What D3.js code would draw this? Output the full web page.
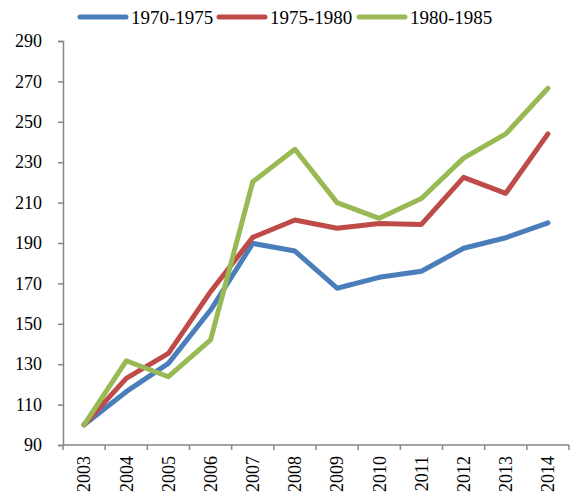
<!DOCTYPE html>
<html>
<head>
<meta charset="utf-8">
<script src="https://cdn.jsdelivr.net/npm/d3@7"></script>
<style>
  body { margin: 0; background: #fff; }
  text { font-family: "Liberation Serif", "Times New Roman", serif; fill: #000; }
</style>
</head>
<body>
<script>
var years = ["2003","2004","2005","2006","2007","2008","2009","2010","2011","2012","2013","2014"];
var seriesNames = ["1970-1975", "1975-1980", "1980-1985"];
var s1970 = [100, 116.4, 130.4, 156.8, 189.8, 186, 167.6, 173, 176, 187.4, 192.6, 200];
var s1975 = [100, 123, 135.4, 165.9, 192.8, 201.4, 197.3, 199.7, 199.2, 222.5, 214.6, 244];
var s1980 = [100, 131.7, 123.8, 142, 220.3, 236.4, 210, 202.2, 212, 232, 244, 266.6];
var yTicks = [90, 110, 130, 150, 170, 190, 210, 230, 250, 270, 290];

var colors = ["#4a7ebb", "#be4b48", "#98b954"];
var allSeries = [s1970, s1975, s1980];

var width = 581, height = 504;
var plotLeft = 63, plotRight = 569, plotTop = 41, plotBottom = 445;

var svg = d3.select("body").append("svg")
    .attr("width", width)
    .attr("height", height);

var x = d3.scaleBand().domain(years).range([plotLeft, plotRight]);
var y = d3.scaleLinear().domain([90, 290]).range([plotBottom, plotTop]);

// y axis
var yAxis = svg.append("g")
    .attr("transform", "translate(" + plotLeft + ",0)")
    .call(d3.axisLeft(y).tickValues(yTicks).tickSize(5));
yAxis.selectAll("text").style("font-size", "18px").attr("x", -21);
yAxis.select(".domain").attr("stroke", "#868686").attr("stroke-width", 1.5);
yAxis.selectAll(".tick line").attr("stroke", "#868686").attr("stroke-width", 1.5);

// x axis with ticks at band edges
var xAxis = svg.append("g")
    .attr("transform", "translate(0," + plotBottom + ")");
xAxis.append("line")
    .attr("x1", plotLeft).attr("x2", plotRight)
    .attr("stroke", "#868686").attr("stroke-width", 1.5);
var edges = years.map(function(d) { return x(d); }).concat([plotRight]);
xAxis.selectAll(".tk").data(edges).enter().append("line")
    .attr("x1", function(d) { return d; }).attr("x2", function(d) { return d; })
    .attr("y1", 0).attr("y2", 5)
    .attr("stroke", "#868686").attr("stroke-width", 1.5);
xAxis.selectAll(".lb").data(years).enter().append("text")
    .attr("transform", function(d) { return "translate(" + (x(d) + x.bandwidth() / 2) + ",11) rotate(-90)"; })
    .attr("text-anchor", "end")
    .attr("dy", "0.35em")
    .style("font-size", "18px")
    .text(function(d) { return d; });

// lines
var line = d3.line()
    .x(function(d, i) { return x(years[i]) + x.bandwidth() / 2; })
    .y(function(d) { return y(d); });

allSeries.forEach(function(s, i) {
  svg.append("path")
      .datum(s)
      .attr("d", line)
      .attr("fill", "none")
      .attr("stroke", colors[i])
      .attr("stroke-width", 5)
      .attr("stroke-linejoin", "round")
      .attr("stroke-linecap", "round");
});

// legend
var legendX = [80, 219, 359];
var legend = svg.append("g");
seriesNames.forEach(function(name, i) {
  legend.append("line")
      .attr("x1", legendX[i]).attr("x2", legendX[i] + 46)
      .attr("y1", 17).attr("y2", 17)
      .attr("stroke", colors[i]).attr("stroke-width", 5)
      .attr("stroke-linecap", "round");
  legend.append("text")
      .attr("x", legendX[i] + 51).attr("y", 17)
      .attr("dy", "0.35em")
      .style("font-size", "19px")
      .text(name);
});
</script>
</body>
</html>
